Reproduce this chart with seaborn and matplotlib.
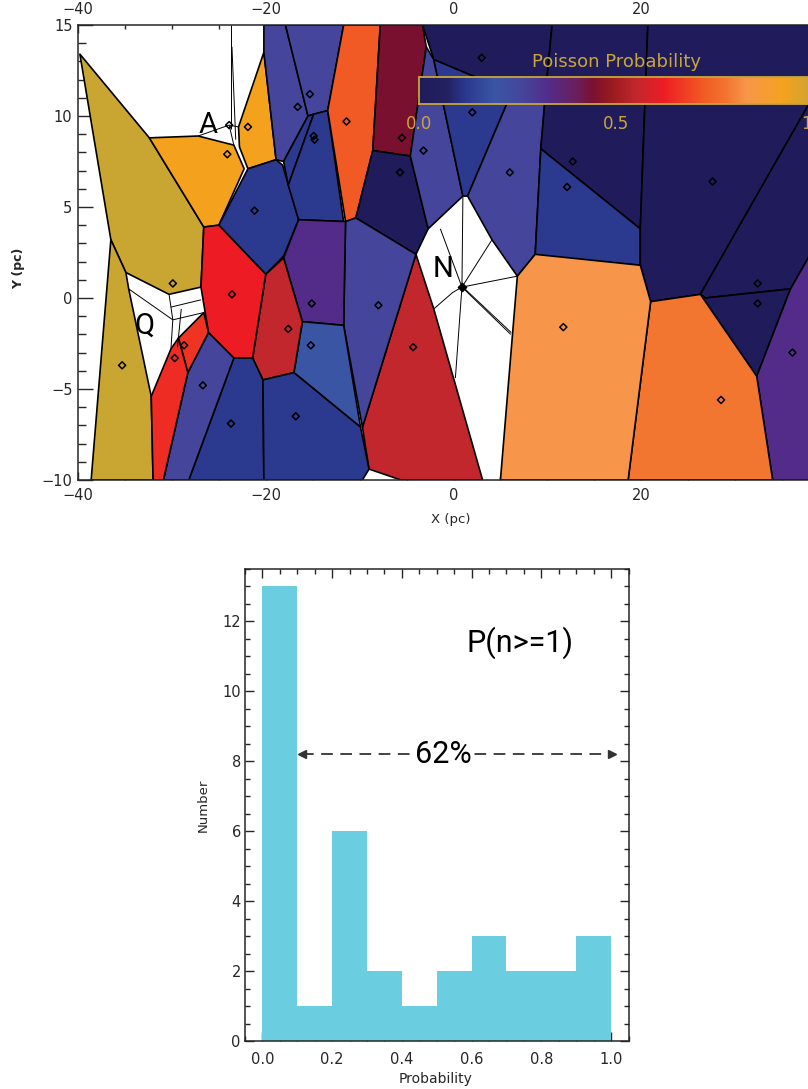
import numpy as np
import pandas as pd
import matplotlib
matplotlib.use("Agg")
import matplotlib.pyplot as plt
import matplotlib.cm as cm
from matplotlib.collections import PolyCollection, LineCollection
from matplotlib.colors import LinearSegmentedColormap, Normalize
from matplotlib.ticker import MultipleLocator, FixedLocator, FormatStrFormatter
import seaborn as sns

# ---------------- Poisson probability colour scale ----------------
cmap_stops = [0.0, 0.07, 0.12, 0.19, 0.26, 0.33, 0.40, 0.44, 0.49,
              0.55, 0.62, 0.72, 0.78, 0.83, 0.92, 1.0]
cmap_colors = ["#201C5C", "#23215F", "#2B3990", "#3A55A3", "#45469B",
               "#532B89", "#6A1F5A", "#7A1030", "#9A1B1E", "#C1272D",
               "#ED1C24", "#F15A24", "#F37530", "#F7964A", "#F5A21E",
               "#C9A532"]

# ---------------- Voronoi cells (X, Y in pc) and their probabilities ----------------
cell_olive_upper = [(-39.8, 13.4), (-32.4, 8.8), (-26.6, 3.9), (-26.9, 0.6), (-30.3, 0.2), (-34.9, 1.4), (-36.5, 3.2)]
cell_olive_lower = [(-36.5, 3.2), (-34.9, 1.4), (-34.6, 0.5), (-32.2, -5.4), (-32.0, -10), (-38.6, -10)]
cell_orange_a = [(-32.4, 8.8), (-27.2, 8.9), (-23.4, 8.4), (-22.3, 7.1), (-25.0, 4.0), (-26.6, 3.9)]
cell_orange_strip = [(-20.2, 13.5), (-18.9, 7.6), (-21.9, 7.1), (-22.8, 8.3), (-22.9, 9.4)]
cell_blue_a = [(-21.9, 7.1), (-18.9, 7.6), (-18.2, 7.3), (-16.5, 4.3), (-18.1, 2.3), (-20.0, 1.3), (-25.0, 4.0)]
cell_bp_top1 = [(-20.2, 15), (-17.9, 15), (-15.5, 10.0), (-18.1, 7.5), (-18.9, 7.6), (-20.2, 13.5)]
cell_bp_top2 = [(-17.9, 15), (-11.7, 15), (-13.4, 10.3), (-15.5, 10.0)]
cell_blue_thin = [(-18.1, 7.5), (-15.5, 10.0), (-14.9, 10.1), (-17.6, 6.2)]
cell_blue_wedge = [(-17.6, 6.2), (-14.9, 10.1), (-13.4, 10.3), (-11.7, 4.2), (-16.5, 4.3)]
cell_orange_mid = [(-11.7, 15), (-7.8, 15), (-8.6, 8.1), (-10.4, 4.4), (-11.5, 4.2), (-13.4, 10.3)]
cell_maroon = [(-7.8, 15), (-3.3, 15), (-2.9, 13.8), (-4.6, 7.8), (-8.6, 8.1)]
cell_navy_mid = [(-8.6, 8.1), (-4.6, 7.8), (-2.7, 3.8), (-4.0, 2.4), (-10.4, 4.4)]
cell_bp_mid = [(-2.9, 13.8), (-2.1, 13.1), (1.0, 5.6), (-2.7, 3.8), (-4.6, 7.8)]
cell_navy_top = [(-3.3, 15), (10.5, 15), (9.8, 11.2), (6.2, 11.3), (-2.1, 13.1)]
cell_blue_under = [(-2.1, 13.1), (6.2, 11.3), (1.5, 5.6), (1.0, 5.6)]
cell_bp_right = [(6.2, 11.3), (9.8, 11.2), (9.3, 8.2), (8.7, 2.4), (6.8, 1.2), (4.1, 3.2), (1.5, 5.6)]
cell_navy_left = [(10.5, 15), (20.7, 15), (19.9, 3.8), (9.3, 8.2), (9.8, 11.2)]
cell_blue_right = [(9.3, 8.2), (19.9, 3.8), (19.9, 1.8), (8.7, 2.3)]
cell_navy_big = [(20.7, 15), (40, 15), (40, 12.6), (26.3, 0.2), (21.0, -0.2), (19.9, 1.8), (19.9, 3.8)]
cell_navy_b = [(26.3, 0.2), (40, 12.6), (40, 4.2), (35.9, 0.5), (26.8, 0.0)]
cell_navy_c = [(26.3, 0.2), (26.8, 0.0), (35.9, 0.5), (32.3, -4.3)]
cell_purple_right = [(35.9, 0.5), (40, 4.2), (40, -10), (34.0, -10), (32.3, -4.3)]
cell_orange_right = [(21.0, -0.2), (26.3, 0.2), (32.3, -4.3), (34.0, -10), (18.6, -10)]
cell_light_orange = [(6.8, 1.2), (8.7, 2.4), (19.9, 1.8), (21.0, -0.2), (18.6, -10), (5.0, -10)]
cell_red_mid = [(-4.0, 2.4), (-2.1, -0.6), (3.1, -10), (-5.6, -10), (-9.0, -9.4), (-9.7, -7.1)]
cell_bp_center = [(-11.5, 4.2), (-10.4, 4.4), (-4.0, 2.4), (-9.7, -7.1), (-11.7, -1.5)]
cell_purple_center = [(-16.5, 4.3), (-11.5, 4.2), (-11.7, -1.5), (-16.1, -1.3), (-18.1, 2.2)]
cell_blue_center = [(-16.1, -1.3), (-11.7, -1.5), (-9.9, -7.1), (-17.0, -4.1)]
cell_darkred = [(-20.0, 1.3), (-18.1, 2.2), (-16.1, -1.3), (-17.0, -4.1), (-20.3, -4.5), (-21.4, -3.3)]
cell_red_center = [(-26.6, 3.9), (-25.0, 4.0), (-20.0, 1.3), (-21.4, -3.3), (-23.4, -3.3), (-26.1, -1.9), (-26.9, 0.6)]
cell_blue_low1 = [(-23.4, -3.3), (-21.4, -3.3), (-20.3, -4.5), (-20.2, -10), (-28.2, -10)]
cell_blue_low2 = [(-20.3, -4.5), (-17.0, -4.1), (-9.9, -7.1), (-9.0, -9.4), (-9.7, -10), (-20.2, -10)]
cell_bp_low = [(-26.1, -1.9), (-23.4, -3.3), (-28.2, -10), (-30.9, -10), (-28.3, -4.1)]
cell_orange_red = [(-29.3, -2.2), (-26.6, -0.8), (-26.1, -1.9), (-28.3, -4.1)]
cell_red_low = [(-32.2, -5.4), (-30.1, -2.8), (-29.3, -2.2), (-28.3, -4.1), (-30.9, -10), (-32.0, -10)]

cells = [cell_olive_upper, cell_olive_lower, cell_orange_a, cell_orange_strip, cell_blue_a,
         cell_bp_top1, cell_bp_top2, cell_blue_thin, cell_blue_wedge, cell_orange_mid,
         cell_maroon, cell_navy_mid, cell_bp_mid, cell_navy_top, cell_blue_under,
         cell_bp_right, cell_navy_left, cell_blue_right, cell_navy_big, cell_navy_b,
         cell_navy_c, cell_purple_right, cell_orange_right, cell_light_orange, cell_red_mid,
         cell_bp_center, cell_purple_center, cell_blue_center, cell_darkred, cell_red_center,
         cell_blue_low1, cell_blue_low2, cell_bp_low, cell_orange_red, cell_red_low]
cell_prob = [1.0, 1.0, 0.92, 0.92, 0.12,
             0.26, 0.26, 0.12, 0.12, 0.72,
             0.44, 0.0, 0.26, 0.0, 0.12,
             0.26, 0.0, 0.12, 0.0, 0.0,
             0.0, 0.33, 0.78, 0.83, 0.55,
             0.26, 0.33, 0.19, 0.55, 0.62,
             0.12, 0.12, 0.26, 0.66, 0.645]

# thin tessellation edges inside the unassigned (white) regions around A, Q and N
open_edges = [
    [(-23.7, 15), (-23.7, 9.3)], [(-23.6, 13.8), (-23.2, 8.7)],
    [(-27.2, 8.9), (-23.9, 9.5), (-22.9, 9.4)], [(-23.9, 9.5), (-23.4, 8.4)],
    [(-30.3, 0.2), (-30.1, -0.5), (-26.9, -0.1)], [(-34.6, 0.5), (-29.9, -1.2)],
    [(-30.1, -0.5), (-29.9, -1.2), (-30.1, -2.8)], [(-29.9, -1.2), (-26.6, -0.8)],
    [(-29.0, -0.6), (-29.4, -2.7)],
    [(0.9, 0.6), (1.0, 5.6)], [(0.9, 0.6), (4.1, 3.2)], [(0.9, 0.6), (6.8, 1.2)],
    [(0.9, 0.6), (6.1, -2.0)], [(0.9, 0.65), (6.15, -1.9)],
    [(0.9, 0.6), (-0.1, 0.3), (-2.1, -0.6)], [(0.9, 0.6), (0.2, -4.4)],
    [(-1.4, 3.8), (0.9, 0.6)],
]

# source positions (pc)
src_x = [-35.3, -29.9, -24.1, -21.9, -23.9, -16.6, -15.3, -14.9, -14.8, -21.2,
         -11.4, -5.5, -5.7, -3.2, 3.0, 2.0, 6.0, 12.7, 12.1, 27.6,
         32.4, 32.4, 36.1, 28.5, 11.7, -4.3, -8.0, -15.1, -15.2, -17.6,
         -23.6, -23.7, -16.8, -26.7, -28.7, -29.7]
src_y = [-3.7, 0.8, 7.9, 9.4, 9.5, 10.5, 11.2, 8.9, 8.7, 4.8,
         9.7, 8.8, 6.9, 8.1, 13.2, 10.2, 6.9, 7.5, 6.1, 6.4,
         0.8, -0.3, -3.0, -5.6, -1.6, -2.7, -0.4, -0.3, -2.6, -1.7,
         0.2, -6.9, -6.5, -4.8, -2.6, -3.3]
n_center = (0.9, 0.6)

region_labels = ["A", "Q", "N"]
region_label_x = [-26.2, -32.9, -1.1]
region_label_y = [9.5, -1.5, 1.6]

map_xticks = [-40, -20, 0, 20]

# ---------------- histogram of probabilities ----------------
bin_edges = [0.0, 0.1, 0.2, 0.3, 0.4, 0.5, 0.6, 0.7, 0.8, 0.9, 1.0]
bin_counts = [13, 1, 6, 2, 1, 2, 3, 2, 2, 3]
bin_mid = [round(0.5 * (a + b), 3) for a, b in zip(bin_edges[:-1], bin_edges[1:])]
hist_df = pd.DataFrame({"Probability": bin_mid, "Number": bin_counts})
frac_label = "62%"
frac_range = (0.113, 1.004)
frac_level = 8.2

# ---------------- styling ----------------
sns.set_style("ticks", {"xtick.direction": "in", "ytick.direction": "in"})
plt.rcParams["font.family"] = ["DejaVu Sans"]
gold = "#C9A63A"
bar_color = "#6BCDE0"
thin = dict(family=["Roboto", "DejaVu Sans"], weight="normal", color="black")

cmap = LinearSegmentedColormap.from_list("poisson", list(zip(cmap_stops, cmap_colors)), N=512)
norm = Normalize(0.0, 1.0)

W, H = 808, 1089
fig = plt.figure(figsize=(W / 100, H / 100), dpi=100)

# ---------------- map panel ----------------
ax = fig.add_axes([78 / W, 1 - 480 / H, (829 - 78) / W, 455 / H])
pc = PolyCollection(cells, array=np.array(cell_prob), cmap=cmap, norm=norm,
                    edgecolors="black", linewidths=1.2, zorder=1)
ax.add_collection(pc)
ax.add_collection(LineCollection(open_edges, colors="black", linewidths=0.7, zorder=2))
ax.scatter(src_x, src_y, marker="D", s=13, facecolors="none", edgecolors="black",
           linewidths=1.1, zorder=3)
ax.scatter([n_center[0]], [n_center[1]], marker="D", s=18, color="black", zorder=3)
for t, x, y in zip(region_labels, region_label_x, region_label_y):
    ax.text(x, y, t, fontsize=21, ha="center", va="center", zorder=4, **thin)

ax.set_xlim(-40, 40)
ax.set_ylim(-10, 15)
ax.xaxis.set_major_locator(FixedLocator(map_xticks))
ax.xaxis.set_minor_locator(MultipleLocator(5))
ax.yaxis.set_major_locator(MultipleLocator(5))
ax.yaxis.set_minor_locator(MultipleLocator(1))
ax.tick_params(axis="x", which="both", top=True, bottom=True, labeltop=True,
               labelbottom=True, direction="in", labelsize=10.5, pad=6)
ax.tick_params(axis="x", which="major", length=6, width=1)
ax.tick_params(axis="x", which="minor", length=3, width=1)
ax.tick_params(axis="y", which="both", left=True, right=True, direction="in",
               labelsize=10.5, pad=4)
ax.tick_params(axis="y", which="major", length=11, width=1)
ax.tick_params(axis="y", which="minor", length=5.5, width=1)
for s in ax.spines.values():
    s.set_linewidth(1.1)
fig.text(451 / W, 1 - 519 / H, "X (pc)", ha="center", va="center", fontsize=9.5)
fig.text(19 / W, 1 - 268 / H, "Y (pc)", ha="center", va="center", fontsize=9,
         rotation=90, fontweight="bold")

# colour bar
cax = fig.add_axes([419 / W, 1 - 104 / H, 395 / W, 27 / H])
cb = fig.colorbar(cm.ScalarMappable(norm=norm, cmap=cmap), cax=cax,
                  orientation="horizontal", ticks=[0.0, 0.5, 1.0])
cb.outline.set_edgecolor(gold)
cb.outline.set_linewidth(1.3)
cax.set_xticklabels(["0.0", "0.5", "1.0"])
cax.tick_params(axis="x", direction="in", length=3, color=gold, labelcolor=gold,
                top=True, labelsize=12, pad=8)
cax.set_title("Poisson Probability", color=gold, fontsize=13, pad=7)

# ---------------- histogram panel ----------------
ax2 = fig.add_axes([245 / W, 1 - 1041 / H, 383.5 / W, 472 / H])
sns.histplot(data=hist_df, x="Probability", weights="Number", bins=bin_edges,
             color=bar_color, alpha=1.0, linewidth=0, ax=ax2)
ax2.set_xlim(-0.05, 1.05)
ax2.set_ylim(0, 13.5)
ax2.set_xlabel("")
ax2.set_ylabel("")
ax2.xaxis.set_major_locator(MultipleLocator(0.2))
ax2.xaxis.set_minor_locator(MultipleLocator(0.05))
ax2.yaxis.set_major_locator(MultipleLocator(2))
ax2.yaxis.set_minor_locator(MultipleLocator(0.5))
ax2.xaxis.set_major_formatter(FormatStrFormatter("%.1f"))
ax2.tick_params(which="both", direction="in", top=True, right=True, width=1)
ax2.tick_params(which="major", length=6.5)
ax2.tick_params(which="minor", length=3.5)
ax2.tick_params(axis="x", labelsize=10.5, pad=8)
ax2.tick_params(axis="y", labelsize=10.5, pad=3)
for s in ax2.spines.values():
    s.set_linewidth(1.1)
    s.set_visible(True)

ax2.text(0.74, 11.4, "P(n>=1)", fontsize=22, ha="center", va="center", **thin)
ax2.plot(list(frac_range), [frac_level, frac_level], color="#222222", lw=1.2,
         ls=(0, (7, 4.5)), zorder=3)
ax2.plot([frac_range[0]], [frac_level], marker="<", color="#333333", ms=6, zorder=4)
ax2.plot([frac_range[1]], [frac_level], marker=">", color="#333333", ms=6, zorder=4)
ax2.text(0.52, frac_level, frac_label, fontsize=22, ha="center", va="center", zorder=5,
         bbox=dict(facecolor="white", edgecolor="none", pad=1.5), **thin)

fig.text(203.5 / W, 1 - 805 / H, "Number", rotation=90, ha="center", va="center", fontsize=9.5)
fig.text(436 / W, 1 - 1079 / H, "Probability", ha="center", va="center", fontsize=10)

fig.savefig("out.png", dpi=100)
